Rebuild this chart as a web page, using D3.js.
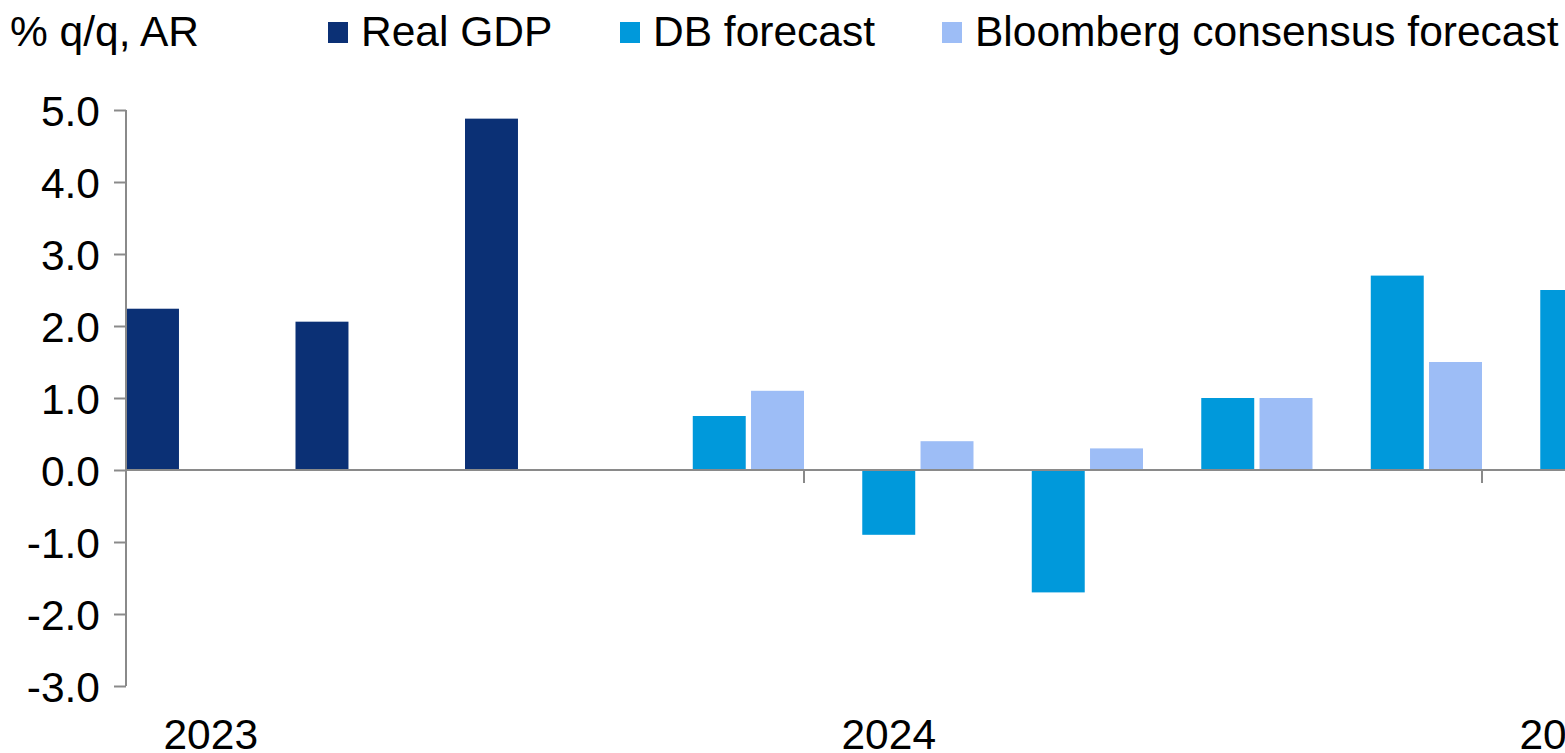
<!DOCTYPE html>
<html>
<head>
<meta charset="utf-8">
<script src="https://cdn.jsdelivr.net/npm/d3@7"></script>
<style>
  html, body { margin: 0; padding: 0; background: #fff; overflow: hidden; }
  svg { display: block; font-family: "Liberation Sans", Arial, sans-serif; }
</style>
</head>
<body>
<svg id="chart" width="1565" height="753"></svg>
<script>
// Quarterly real GDP growth, % q/q annualised
const quarters = ["2023Q1", "2023Q2", "2023Q3", "2023Q4", "2024Q1", "2024Q2", "2024Q3", "2024Q4", "2025Q1"];
const realGDP    = [2.24, 2.06, 4.88, null, null, null, null, null, null];
const dbForecast = [null, null, null, 0.75, -0.9, -1.7, 1.0, 2.7, 2.5];
const bbgForecast = [null, null, null, 1.1, 0.4, 0.3, 1.0, 1.5, null];

const seriesNames = ["Real GDP", "DB forecast", "Bloomberg consensus forecast"];
const seriesColors = ["#0b3075", "#0099db", "#9dbdf6"];
const seriesValues = [realGDP, dbForecast, bbgForecast];

const yTicks = [-3, -2, -1, 0, 1, 2, 3, 4, 5];
const yearLabels = ["2023", "2024", "2025"];

const svg = d3.select("#chart");
const axisColor = "#8a8a8a";
const fontSize = 42.5;

// Scales: each quarter gets an equal slot; year boundaries fall every four slots
const left = 126;
const quarterStep = 678 / 4;
const x = d3.scaleBand()
  .domain(quarters)
  .range([left, left + quarterStep * quarters.length])
  .paddingInner(0).paddingOuter(0);

const xInner = d3.scaleBand()
  .domain(seriesNames)
  .range([0, x.bandwidth()])
  .paddingInner(0.1 / 1.1)
  .paddingOuter(0);

const y = d3.scaleLinear().domain([-3, 5]).range([686, 110]);

// Bars
const rows = [];
seriesValues.forEach((vals, si) => {
  vals.forEach((v, qi) => {
    if (v !== null) rows.push({ q: quarters[qi], s: seriesNames[si], v, c: seriesColors[si] });
  });
});

svg.append("g").selectAll("rect")
  .data(rows)
  .join("rect")
  .attr("x", d => x(d.q) + xInner(d.s))
  .attr("width", xInner.bandwidth())
  .attr("y", d => y(Math.max(0, d.v)))
  .attr("height", d => Math.abs(y(d.v) - y(0)))
  .attr("fill", d => d.c);

// Y axis
const yAxis = d3.axisLeft(y)
  .tickValues(yTicks)
  .tickSize(12)
  .tickPadding(14)
  .tickFormat(d => d.toFixed(1));

const gy = svg.append("g")
  .attr("transform", `translate(${left},0)`)
  .call(yAxis);
gy.select(".domain").attr("d", `M0,${y(5)}H0V${y(-3)}`).attr("stroke", axisColor).attr("stroke-width", 2);
gy.selectAll(".tick line").attr("stroke", axisColor).attr("stroke-width", 2);
gy.selectAll(".tick text")
  .attr("fill", "#000")
  .attr("font-size", fontSize)
  .attr("font-family", "Liberation Sans, Arial, sans-serif")
  .attr("dy", "0.36em");

// X axis along zero, with ticks at each year boundary
const yearStarts = quarters.filter(q => q.endsWith("Q1"));
const xAxis = d3.axisBottom(x)
  .tickValues(yearStarts)
  .tickSize(13)
  .tickFormat("");
const gx = svg.append("g")
  .attr("transform", `translate(0,${y(0)})`)
  .call(xAxis);
gx.select(".domain").attr("d", `M${left},0H1565`).attr("stroke", axisColor).attr("stroke-width", 2);
gx.selectAll(".tick").attr("transform", d => `translate(${x(d)},0)`);
gx.selectAll(".tick line").attr("stroke", axisColor).attr("stroke-width", 2);

// Year labels, centred under the first quarter of each year
svg.append("g").selectAll("text")
  .data(yearLabels)
  .join("text")
  .attr("x", (d, i) => x(yearStarts[i]) + x.bandwidth() / 2)
  .attr("y", 749)
  .attr("text-anchor", "middle")
  .attr("font-size", fontSize)
  .attr("fill", "#000")
  .text(d => d);

// Units label
svg.append("text")
  .attr("x", 10)
  .attr("y", 46)
  .attr("font-size", fontSize)
  .attr("fill", "#000")
  .text("% q/q, AR");

// Legend
const legendX = [328, 620, 942];
const lg = svg.append("g").selectAll("g")
  .data(seriesNames)
  .join("g")
  .attr("transform", (d, i) => `translate(${legendX[i]},0)`);
lg.append("rect")
  .attr("x", 0).attr("y", 22)
  .attr("width", 20).attr("height", 21)
  .attr("fill", (d, i) => seriesColors[i]);
lg.append("text")
  .attr("x", 33).attr("y", 46)
  .attr("font-size", fontSize)
  .attr("fill", "#000")
  .text(d => d);
</script>
</body>
</html>
